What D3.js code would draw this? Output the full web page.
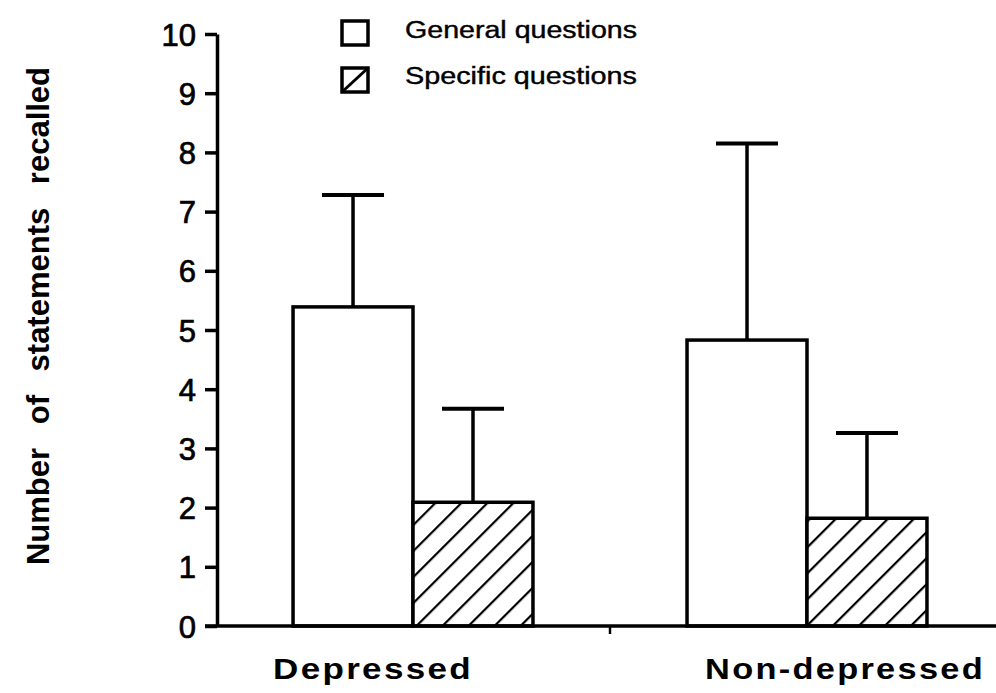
<!DOCTYPE html>
<html>
<head>
<meta charset="utf-8">
<script src="https://cdn.jsdelivr.net/npm/d3@7"></script>
<style>
  html, body { margin: 0; padding: 0; background: #fff; }
  svg { display: block; }
  text { font-family: "Liberation Sans", Arial, Helvetica, sans-serif; fill: #000; }
</style>
</head>
<body>
<svg id="chart" width="996" height="693"></svg>
<script>
// Recall of statements by group and question type (mean with +SD bar)
const groups = ["Depressed", "Non-depressed"];
const questionTypes = ["General questions", "Specific questions"];
const generalMeans = [5.39, 4.83];
const generalUpper = [7.28, 8.15];
const specificMeans = [2.09, 1.82];
const specificUpper = [3.67, 3.26];
const yTicks = [0, 1, 2, 3, 4, 5, 6, 7, 8, 9, 10];
const yTitle = "Number of statements recalled";

const series = [
  { key: questionTypes[0], means: generalMeans, upper: generalUpper, hatched: false },
  { key: questionTypes[1], means: specificMeans, upper: specificUpper, hatched: true }
];

const svg = d3.select("#chart");

// Hatch fill for the specific-question bars
const defs = svg.append("defs");
const hatch = defs.append("pattern")
  .attr("id", "hatch")
  .attr("patternUnits", "userSpaceOnUse")
  .attr("width", 18.4)
  .attr("height", 18.4)
  .attr("patternTransform", "rotate(45)");
hatch.append("rect").attr("width", 18.4).attr("height", 18.4).attr("fill", "#fff");
hatch.append("line")
  .attr("x1", 0).attr("y1", 0).attr("x2", 0).attr("y2", 18.4)
  .attr("stroke", "#000").attr("stroke-width", 4.4);

const axisX = 217;
const baseY = 626;

const y = d3.scaleLinear().domain([0, 10]).range([baseY, 34]);
const x0 = d3.scaleBand().domain(groups).range([217, 1003])
  .paddingInner(0.391).paddingOuter(0.193);
const x1 = d3.scaleBand().domain(questionTypes).range([0, x0.bandwidth()]);

// Bars
const g = svg.append("g");
series.forEach(s => {
  groups.forEach((grp, i) => {
    const bx = x0(grp) + x1(s.key);
    g.append("rect")
      .attr("x", bx)
      .attr("y", y(s.means[i]))
      .attr("width", x1.bandwidth())
      .attr("height", baseY - y(s.means[i]))
      .attr("fill", s.hatched ? "url(#hatch)" : "#fff")
      .attr("stroke", "#000")
      .attr("stroke-width", 3.5);
    // Error bar (upper only)
    const cx = bx + x1.bandwidth() / 2;
    g.append("line")
      .attr("x1", cx).attr("x2", cx)
      .attr("y1", y(s.means[i])).attr("y2", y(s.upper[i]))
      .attr("stroke", "#000").attr("stroke-width", 3.5);
    g.append("line")
      .attr("x1", cx - 31).attr("x2", cx + 31)
      .attr("y1", y(s.upper[i])).attr("y2", y(s.upper[i]))
      .attr("stroke", "#000").attr("stroke-width", 4);
  });
});

// Y axis
const yAxis = d3.axisLeft(y).tickValues(yTicks).tickSize(12).tickPadding(9).tickSizeOuter(0);
const ya = svg.append("g").attr("transform", `translate(${axisX},0)`).call(yAxis);
ya.select(".domain").attr("stroke", "#000").attr("stroke-width", 3.5);
ya.selectAll(".tick line").attr("stroke", "#000").attr("stroke-width", 3.5);
ya.selectAll(".tick text")
  .attr("font-size", 31)
  .attr("font-family", "Liberation Sans, Arial, sans-serif")
  .attr("fill", "#000")
  .attr("stroke", "#000")
  .attr("stroke-width", 0.7)
  .attr("dy", "0.36em");

// X axis baseline with a single divider tick between the groups
const midTick = (x0(groups[0]) + x0.bandwidth() + x0(groups[1])) / 2;
svg.append("line")
  .attr("x1", axisX - 12).attr("x2", 996)
  .attr("y1", baseY).attr("y2", baseY)
  .attr("stroke", "#000").attr("stroke-width", 3.5);
svg.append("line")
  .attr("x1", midTick).attr("x2", midTick)
  .attr("y1", baseY).attr("y2", baseY + 8)
  .attr("stroke", "#000").attr("stroke-width", 2.5);

// Group labels
const groupLabelOffset = [-20, 18];
const groupLabelWidth = [200, 280];
groups.forEach((grp, i) => {
  svg.append("text")
    .attr("x", x0(grp) + groupLabelOffset[i])
    .attr("y", 679)
    .attr("font-size", 30)
    .attr("font-weight", "bold")
    .attr("letter-spacing", 2)
    .attr("textLength", groupLabelWidth[i])
    .attr("lengthAdjust", "spacingAndGlyphs")
    .text(grp);
});

// Y title: words spread apart along the axis
const titleWords = yTitle.split(" ");
const titleText = svg.append("text")
  .attr("transform", "translate(49,316) rotate(-90)")
  .attr("text-anchor", "middle")
  .attr("font-size", 31)
  .attr("font-weight", "bold");
titleWords.forEach((w, i) => {
  titleText.append("tspan")
    .attr("dx", i === 0 ? 0 : 15)
    .text((i === 0 ? "" : " ") + w);
});

// Legend
const legend = svg.append("g");
const legendRows = [{ y: 21, baseline: 38 }, { y: 68, baseline: 84 }];
series.forEach((s, i) => {
  const r = legendRows[i];
  legend.append("rect")
    .attr("x", 342).attr("y", r.y)
    .attr("width", 26).attr("height", 24)
    .attr("fill", "#fff").attr("stroke", "#000").attr("stroke-width", 3.5);
  if (s.hatched) {
    legend.append("line")
      .attr("x1", 342).attr("y1", r.y + 24)
      .attr("x2", 368).attr("y2", r.y)
      .attr("stroke", "#000").attr("stroke-width", 3);
  }
  legend.append("text")
    .attr("x", 405).attr("y", r.baseline)
    .attr("font-size", 23)
    .attr("stroke", "#000")
    .attr("stroke-width", 0.4)
    .attr("textLength", 232)
    .attr("lengthAdjust", "spacingAndGlyphs")
    .text(s.key);
});
</script>
</body>
</html>
